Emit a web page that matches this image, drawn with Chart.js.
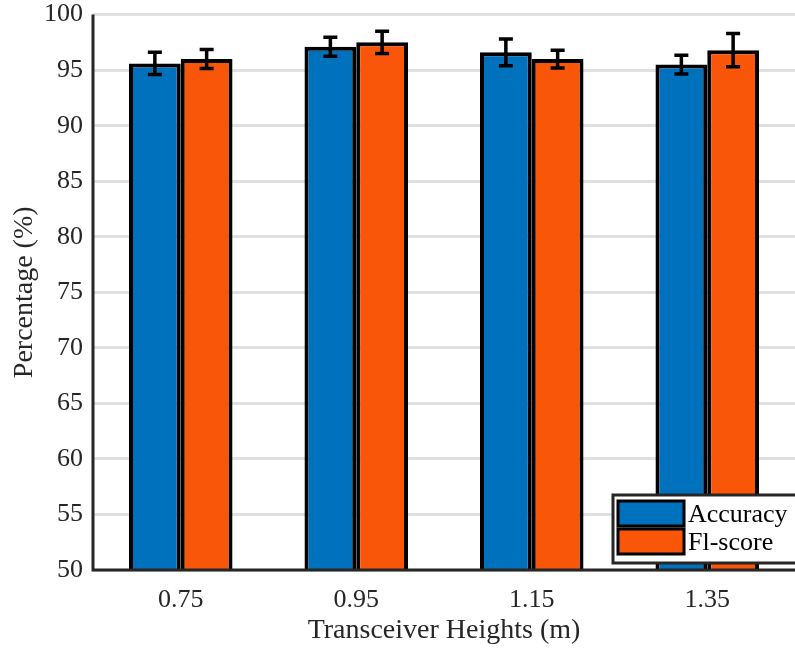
<!DOCTYPE html>
<html>
<head>
<meta charset="utf-8">
<script src="https://cdn.jsdelivr.net/npm/chart.js@4/dist/chart.umd.min.js"></script>
<style>
  html, body { margin: 0; padding: 0; background: #fff; overflow: hidden; }
  #wrap { width: 795px; height: 662px; margin-top: -11px; }
</style>
</head>
<body>
<div id="wrap"><canvas id="bars"></canvas></div>
<script>
// values
var heights = ['0.75', '0.95', '1.15', '1.35'];
var accuracy = [95.6, 97.1, 96.6, 95.5];
var accuracyErr = [1.0, 0.85, 1.2, 0.85];
var f1score = [96.0, 97.5, 96.0, 96.8];
var f1scoreErr = [0.85, 1.0, 0.8, 1.5];
var yTicks = [50, 55, 60, 65, 70, 75, 80, 85, 90, 95, 100];

var FONT = "'Liberation Serif', 'Times New Roman', serif";
var TEXT = '#262626';

// error bars from the err arrays, placed via the scales
var errorBars = {
    id: 'errorBars',
    afterDatasetsDraw: function(chart) {
        var ctx = chart.ctx;
        var y = chart.scales.y;
        ctx.save();
        ctx.strokeStyle = '#000';
        ctx.lineWidth = 3.5;
        chart.data.datasets.forEach(function(ds, i) {
            var meta = chart.getDatasetMeta(i);
            meta.data.forEach(function(bar, j) {
                var v = ds.data[j], e = ds.err[j];
                var top = y.getPixelForValue(v + e);
                var bot = y.getPixelForValue(v - e);
                var x = bar.x, cap = 7;
                ctx.beginPath();
                ctx.moveTo(x, top); ctx.lineTo(x, bot);
                ctx.moveTo(x - cap, top); ctx.lineTo(x + cap, top);
                ctx.moveTo(x - cap, bot); ctx.lineTo(x + cap, bot);
                ctx.stroke();
            });
        });
        ctx.restore();
    }
};

// boxed legend in the bottom right corner of the plot
var innerLegend = {
    id: 'innerLegend',
    afterDraw: function(chart) {
        var ctx = chart.ctx;
        var a = chart.chartArea;
        var bx = 613, by = a.bottom - 75, bw = 190, bh = 68;
        ctx.save();
        ctx.fillStyle = '#fff';
        ctx.fillRect(bx, by, bw, bh);
        ctx.strokeStyle = '#262626';
        ctx.lineWidth = 3;
        ctx.strokeRect(bx, by, bw, bh);
        ctx.font = '26px ' + FONT;
        ctx.textBaseline = 'middle';
        chart.data.datasets.forEach(function(ds, i) {
            var sy = by + 6 + i * 28;
            ctx.fillStyle = ds.backgroundColor;
            ctx.fillRect(bx + 5, sy, 66, 25);
            ctx.lineWidth = 3;
            ctx.strokeStyle = '#000';
            ctx.strokeRect(bx + 5, sy, 66, 25);
            ctx.fillStyle = '#000';
            ctx.fillText(ds.label, bx + 75, sy + 14);
        });
        ctx.restore();
    }
};

// axis lines on the left and bottom
var axisLines = {
    id: 'axisLines',
    afterDatasetsDraw: function(chart) {
        var ctx = chart.ctx, a = chart.chartArea;
        ctx.save();
        ctx.strokeStyle = '#262626';
        ctx.lineWidth = 3;
        ctx.beginPath();
        ctx.moveTo(a.left, a.top);
        ctx.lineTo(a.left, a.bottom);
        ctx.lineTo(a.right, a.bottom);
        ctx.stroke();
        ctx.restore();
    }
};

new Chart(document.getElementById('bars').getContext('2d'), {
    type: 'bar',
    data: {
        labels: heights,
        datasets: [
            {
                label: 'Accuracy',
                data: accuracy,
                err: accuracyErr,
                backgroundColor: '#0072BD',
                borderColor: '#000',
                borderWidth: 4
            },
            {
                label: 'Fl-score',
                data: f1score,
                err: f1scoreErr,
                backgroundColor: '#F9560A',
                borderColor: '#000',
                borderWidth: 4
            }
        ]
    },
    options: {
        responsive: true,
        maintainAspectRatio: false,
        animation: false,
        layout: { padding: 0 },
        datasets: { bar: { barPercentage: 1, categoryPercentage: 0.59 } },
        plugins: {
            legend: { display: false },
            tooltip: { enabled: false }
        },
        scales: {
            x: {
                grid: { display: false, drawTicks: false },
                border: { display: false },
                ticks: { color: TEXT, font: { family: FONT, size: 26 }, padding: 15 },
                title: {
                    display: true,
                    text: 'Transceiver Heights (m)',
                    color: TEXT,
                    font: { family: FONT, size: 28 },
                    padding: { top: 0 }
                },
                afterFit: function(s) { s.height = 81; }
            },
            y: {
                min: 50,
                max: 100,
                afterBuildTicks: function(s) {
                    s.ticks = yTicks.map(function(v) { return { value: v }; });
                },
                grid: { color: '#e0e0e0', lineWidth: 3, drawTicks: false },
                border: { display: false },
                ticks: { color: TEXT, font: { family: FONT, size: 26 }, padding: 10 },
                title: {
                    display: true,
                    text: 'Percentage (%)',
                    color: TEXT,
                    font: { family: FONT, size: 28 },
                    padding: { bottom: 0, top: 8 }
                },
                afterFit: function(s) { s.width = 93; }
            }
        }
    },
    plugins: [axisLines, errorBars, innerLegend]
});
</script>
</body>
</html>
